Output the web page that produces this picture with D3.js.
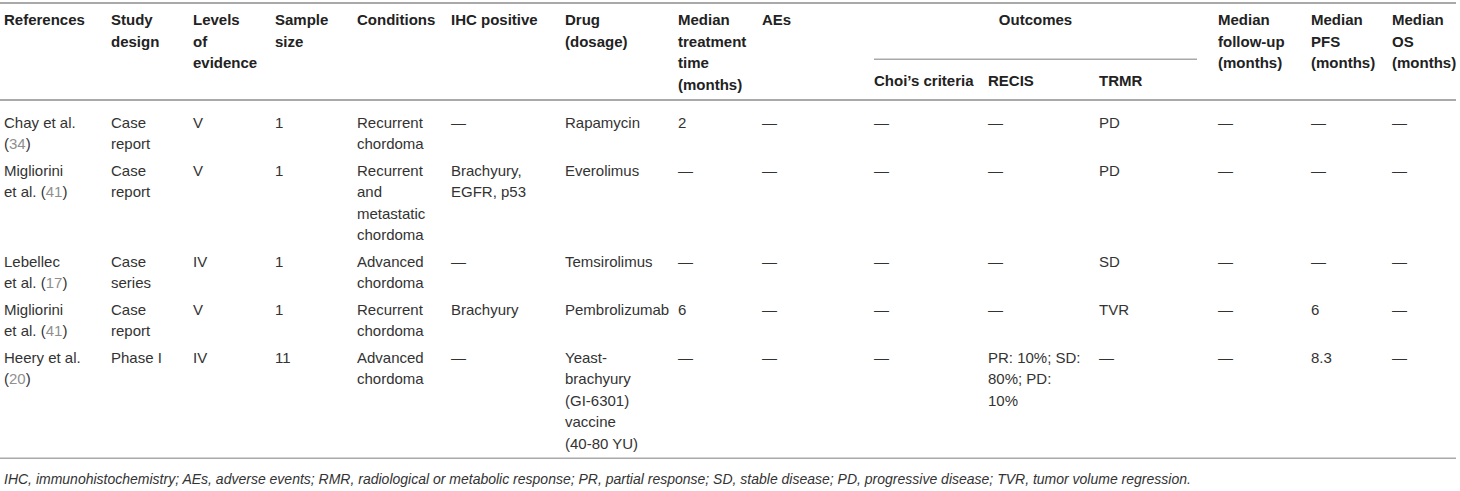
<!DOCTYPE html>
<html><head><meta charset="utf-8">
<script src="https://cdn.jsdelivr.net/npm/d3@7"></script>
<style>
html,body{margin:0;padding:0;background:#fff;}
svg{display:block;}
text{font-family:"Liberation Sans", Arial, Helvetica, sans-serif;}
</style></head><body>
<svg id="chart" width="1460" height="491"></svg>
<script>
// ---------- data ----------
const columnKeys = ["ref","design","level","size","cond","ihc","drug","time","aes","choi","recis","trmr","follow","pfs","os"];
const headerLabels = ["References","Study\ndesign","Levels\nof\nevidence","Sample\nsize","Conditions","IHC positive","Drug\n(dosage)","Median\ntreatment\ntime\n(months)","AEs",null,null,null,"Median\nfollow-up\n(months)","Median\nPFS\n(months)","Median\nOS\n(months)"];
const groupLabel = "Outcomes";
const groupColumns = ["choi","recis","trmr"];
const subHeaderLabels = ["Choi\u2019s criteria","RECIS","TRMR"];

const references = ["Chay et al.\n(34)","Migliorini\net al. (41)","Lebellec\net al. (17)","Migliorini\net al. (41)","Heery et al.\n(20)"];
const studyDesign = ["Case\nreport","Case\nreport","Case\nseries","Case\nreport","Phase I"];
const levelsOfEvidence = ["V","V","IV","V","IV"];
const sampleSize = ["1","1","1","1","11"];
const conditions = ["Recurrent\nchordoma","Recurrent\nand\nmetastatic\nchordoma","Advanced\nchordoma","Recurrent\nchordoma","Advanced\nchordoma"];
const ihcPositive = ["\u2014","Brachyury,\nEGFR, p53","\u2014","Brachyury","\u2014"];
const drugDosage = ["Rapamycin","Everolimus","Temsirolimus","Pembrolizumab","Yeast-\nbrachyury\n(GI-6301)\nvaccine\n(40-80 YU)"];
const medianTreatmentTime = ["2","\u2014","\u2014","6","\u2014"];
const adverseEvents = ["\u2014","\u2014","\u2014","\u2014","\u2014"];
const choiCriteria = ["\u2014","\u2014","\u2014","\u2014","\u2014"];
const recis = ["\u2014","\u2014","\u2014","\u2014","PR: 10%; SD:\n80%; PD:\n10%"];
const trmr = ["PD","PD","SD","TVR","\u2014"];
const medianFollowUp = ["\u2014","\u2014","\u2014","\u2014","\u2014"];
const medianPFS = ["\u2014","\u2014","\u2014","6","8.3"];
const medianOS = ["\u2014","\u2014","\u2014","\u2014","\u2014"];
const footnote = "IHC, immunohistochemistry; AEs, adverse events; RMR, radiological or metabolic response; PR, partial response; SD, stable disease; PD, progressive disease; TVR, tumor volume regression.";

const columnsData = [references,studyDesign,levelsOfEvidence,sampleSize,conditions,ihcPositive,drugDosage,medianTreatmentTime,adverseEvents,choiCriteria,recis,trmr,medianFollowUp,medianPFS,medianOS];

// ---------- layout ----------
const W = 1460, H = 491;
const FS = 15, LH = 21.5, ROW_GAP = 5;
const TEXT = "#333", HEAD = "#222", CITE = "#8f8f8f", RULE = "#a9a9a9";

const x = d3.scaleOrdinal().domain(columnKeys)
  .range([4,111,193,275,357,451,565,678,762,874,988,1099,1218,1311,1392]);
const headerY = d3.scaleLinear().domain([0,1]).range([25, 25 + LH]);

const svg = d3.select("#chart");

// rules
svg.append("rect").attr("x",0).attr("y",2).attr("width",1456).attr("height",2).attr("fill",RULE);
svg.append("rect").attr("x",0).attr("y",99).attr("width",1456).attr("height",2).attr("fill",RULE);
svg.append("rect").attr("x",x("choi")).attr("y",58.5).attr("width",1197 - x("choi")).attr("height",1.5).attr("fill",RULE);

function addLines(sel, str, xpos, yScale, opts) {
  const t = sel.append("text").attr("x", xpos).attr("font-size", FS)
    .attr("fill", opts.fill).attr("font-weight", opts.weight || "normal");
  str.split("\n").forEach((line, i) => {
    const ts = t.append("tspan").attr("x", xpos).attr("y", yScale(i));
    const parts = line.split(/(\(\d+\))/);
    parts.forEach(p => {
      const m = p.match(/^\((\d+)\)$/);
      if (m) {
        ts.append("tspan").text("(");
        ts.append("tspan").attr("fill", CITE).text(m[1]);
        ts.append("tspan").text(")");
      } else if (p.length) {
        ts.append("tspan").text(p);
      }
    });
  });
  return t;
}

// headers
const gh = svg.append("g");
columnKeys.forEach((k, i) => {
  if (headerLabels[i]) addLines(gh, headerLabels[i], x(k), headerY, {fill: HEAD, weight: "bold"});
});
const gx0 = x(groupColumns[0]), gx1 = 1197;
gh.append("text").attr("x", (gx0 + gx1) / 2).attr("y", headerY(0)).attr("text-anchor","middle")
  .attr("font-size", FS).attr("font-weight","bold").attr("fill", HEAD).text(groupLabel);
groupColumns.forEach((k, i) => {
  gh.append("text").attr("x", x(k)).attr("y", 86).attr("font-size", FS)
    .attr("font-weight","bold").attr("fill", HEAD).text(subHeaderLabels[i]);
});

// body rows
const nRows = references.length;
const lineCounts = d3.range(nRows).map(r => d3.max(columnsData, col => col[r].split("\n").length));
let start = 127.5;
const rowStarts = [];
lineCounts.forEach(n => { rowStarts.push(start); start += n * LH + ROW_GAP; });
const gb = svg.append("g");
d3.range(nRows).forEach(r => {
  const yScale = d3.scaleLinear().domain([0,1]).range([rowStarts[r], rowStarts[r] + LH]);
  columnKeys.forEach((k, c) => {
    addLines(gb, columnsData[c][r], x(k), yScale, {fill: TEXT});
  });
});
const lastBaseline = rowStarts[nRows-1] + (lineCounts[nRows-1]-1) * LH;
const bottomY = lastBaseline + 9;
svg.append("rect").attr("x",0).attr("y",bottomY).attr("width",1456).attr("height",1.5).attr("fill",RULE);

svg.append("text").attr("x",4).attr("y",bottomY + 26).attr("font-size",14)
  .attr("font-style","italic").attr("fill",TEXT).text(footnote);
</script></body></html>
